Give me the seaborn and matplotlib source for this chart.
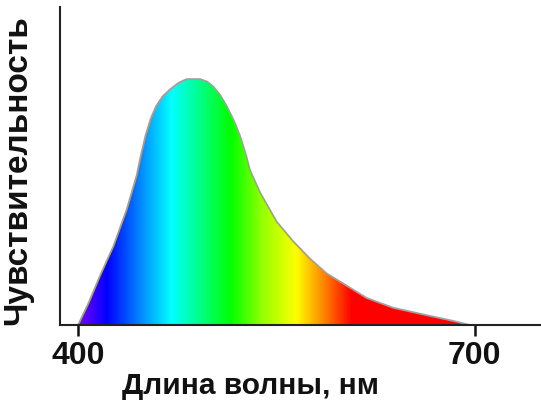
import numpy as np
import pandas as pd
import matplotlib
matplotlib.use("Agg")
import matplotlib.pyplot as plt
import seaborn as sns
from matplotlib.colors import LinearSegmentedColormap, Normalize
from matplotlib.patches import Polygon

# Spectral sensitivity curve
wavelength = [400, 408, 416.6, 426.7, 436.8, 444.4, 447.5, 451.0, 455.0, 459.0, 464.0,
              470.0, 476.0, 482.1, 492.2, 497.5, 502.2, 507.5, 512.4, 517.5, 522.4,
              526.5, 530.0, 537.5, 550.2, 562.7, 575.3, 587.9, 603.1, 618.2, 638.3,
              663.5, 685, 696.2]
sensitivity = [0.0, 0.09, 0.20, 0.32, 0.47, 0.61, 0.69, 0.77, 0.84, 0.89, 0.93,
               0.96, 0.985, 1.0, 1.0, 0.99, 0.97, 0.935, 0.89, 0.835, 0.77,
               0.70, 0.63, 0.54, 0.42, 0.34, 0.27, 0.21, 0.16, 0.11, 0.07,
               0.04, 0.015, 0.0]

# Rainbow colour stops for the fill
stop_nm = [400, 421, 445, 470, 490, 515, 540, 565, 585, 607, 700]
stop_colors = ["#7a00ff", "#0000ff", "#0080ff", "#00ffff", "#00ff90", "#00ff00",
               "#9aff00", "#ffff00", "#ff8a00", "#ff0000", "#ff0000"]

tick_values = [400, 700]
tick_labels = ["400", "700"]

df = pd.DataFrame({"wavelength": wavelength, "sensitivity": sensitivity})

sns.set_theme(style="white")
plt.rcParams['font.family'] = ['Liberation Sans', 'DejaVu Sans']
plt.rcParams['text.color'] = '#111111'
plt.rcParams['axes.labelcolor'] = '#111111'
plt.rcParams['xtick.color'] = '#111111'

fig = plt.figure(figsize=(5.41, 4.02), dpi=100)
ax = fig.add_axes([0.111, 0.189, 0.889, 0.791])
x_min, x_max = 386.4, 750
y_max = 1.293
ax.set_xlim(x_min, x_max)
ax.set_ylim(0, y_max)

# gradient image clipped to the area under the curve
cmap = LinearSegmentedColormap.from_list(
    "spectrum", list(zip([(v - 400) / 300 for v in stop_nm], stop_colors)))
grid = np.linspace(x_min, x_max, 800)[None, :]
im = ax.imshow(grid, cmap=cmap, norm=Normalize(400, 700), aspect="auto",
               extent=(x_min, x_max, 0, y_max), interpolation="bilinear", zorder=1)
poly = Polygon(np.column_stack([df["wavelength"], df["sensitivity"]]),
               closed=True, facecolor="none", edgecolor="none")
ax.add_patch(poly)
im.set_clip_path(poly)

sns.lineplot(data=df, x="wavelength", y="sensitivity", ax=ax, color="#a0a0a0",
             linewidth=1.3, zorder=2)

for side in ["top", "right"]:
    ax.spines[side].set_visible(False)
for side in ["left", "bottom"]:
    ax.spines[side].set_color("#222222")
    ax.spines[side].set_linewidth(1.5)
    ax.spines[side].set_zorder(3)

ax.set_xticks(tick_values)
ax.set_xticklabels(tick_labels, fontsize=23, fontweight="bold")
ax.set_yticks([])
ax.tick_params(axis="x", direction="out", length=8, width=1.8, color="#111111",
               pad=3, bottom=True)
ax.set_xlabel("Длина волны, нм", fontsize=21.5, fontweight="bold")
ax.set_ylabel("Чувствительность", fontsize=24, fontweight="bold")
ax.xaxis.set_label_coords(0.395, -0.145)
ax.yaxis.set_label_coords(-0.056, 0.49)

fig.savefig("out.png", dpi=100)
